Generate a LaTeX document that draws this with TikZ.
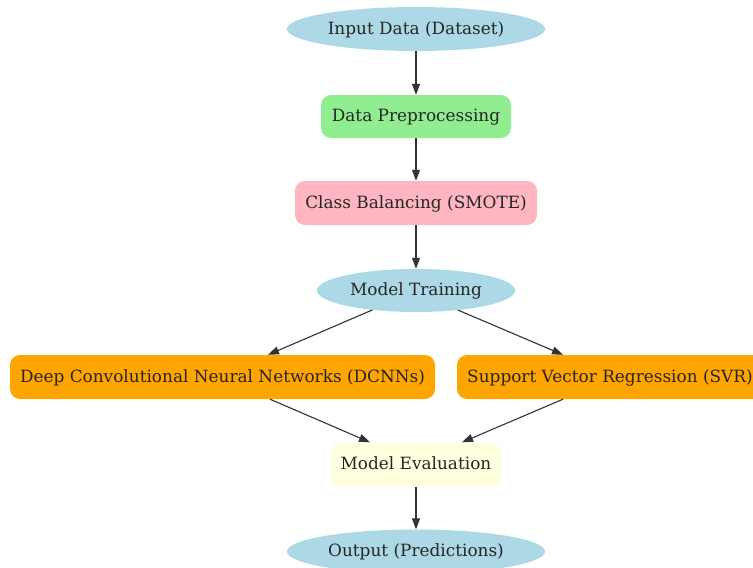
\documentclass[tikz,border=0pt]{standalone}
\usepackage{fontspec}
\setmainfont{DejaVu Serif}
\usetikzlibrary{shapes.geometric,arrows.meta}
\definecolor{lblue}{HTML}{ADD8E6}
\definecolor{lgreen}{HTML}{90EE90}
\definecolor{lpink}{HTML}{FFB6C1}
\definecolor{orng}{HTML}{FFA500}
\definecolor{lyellow}{HTML}{FFFFE0}
\definecolor{edgec}{HTML}{333333}
\tikzset{
  base/.style={inner sep=0pt, font=\fontsize{16.9}{19}\selectfont, text=black!85, text height=13pt, text depth=3pt},
  oval/.style={base, ellipse, fill=lblue},
  rbox/.style={base, rectangle, rounded corners=10pt},
  conn/.style={draw=edgec, line width=1.1pt, -{Triangle[length=11pt,width=8pt]}}
}
\begin{document}
\begin{tikzpicture}[x=1pt,y=-1pt]
\useasboundingbox (0,0) rectangle (753,568);
\begin{scope}
\clip (0,0) rectangle (753,568);
\node[oval, minimum width=258pt, minimum height=44pt] (input) at (416,29) {Input Data (Dataset)};
\node[rbox, fill=lgreen, minimum width=190pt, minimum height=43pt] (prep) at (416,116.5) {Data Preprocessing};
\node[rbox, fill=lpink, minimum width=242pt, minimum height=44pt] (smote) at (416,203) {Class Balancing (SMOTE)};
\node[oval, minimum width=198pt, minimum height=43pt] (train) at (416,290.5) {Model Training};
\node[rbox, fill=orng, minimum width=425pt, minimum height=44pt] (dcnn) at (222.5,377) {Deep Convolutional Neural Networks (DCNNs)};
\node[rbox, fill=orng, minimum width=306pt, minimum height=44pt] (svr) at (610,377) {Support Vector Regression (SVR)};
\node[rbox, fill=lyellow, minimum width=171pt, minimum height=44pt] (eval) at (416,464.5) {Model Evaluation};
\node[oval, minimum width=258pt, minimum height=44pt] (out) at (416,551.5) {Output (Predictions)};
\end{scope}
\draw[conn] (input) -- (prep);
\draw[conn] (prep) -- (smote);
\draw[conn] (smote) -- (train);
\draw[conn] (train.204.3) -- (dcnn.north -| 268,0);
\draw[conn] (train.335.5) -- (svr.north -| 563,0);
\draw[conn] (dcnn.south -| 270,0) -- (eval.north -| 370,0);
\draw[conn] (svr.south -| 563,0) -- (eval.north -| 462,0);
\draw[conn] (eval) -- (out);
\end{tikzpicture}
\end{document}
